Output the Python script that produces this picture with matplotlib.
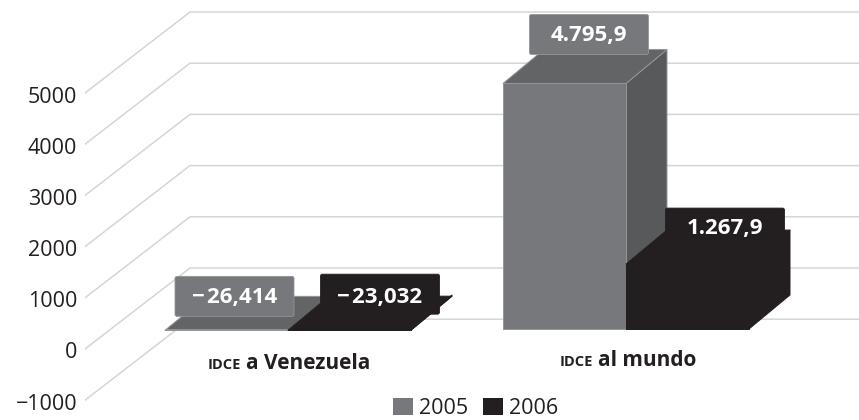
import matplotlib
matplotlib.use("Agg")
import matplotlib.pyplot as plt
from matplotlib.patches import FancyBboxPatch, Patch, Polygon
from matplotlib.transforms import ScaledTranslation

plt.rcParams["font.family"] = ["Open Sans", "DejaVu Sans"]

#---------------------------------data---------------------------------
categories = ["a Venezuela", "al mundo"]
prefix = "IDCE"
years = ["2005", "2006"]
values_2005 = [-26.414, 4795.9]
values_2006 = [-23.032, 1267.9]
labels_2005 = ["\u2212\u200a26,414", "4.795,9"]
labels_2006 = ["\u2212\u200a23,032", "1.267,9"]
y_ticks = [-1000, 0, 1000, 2000, 3000, 4000, 5000]
y_tick_labels = ["\u22121000", "0", "1000", "2000", "3000", "4000", "5000"]

#--------------------------------styles--------------------------------
W, H = 859, 420
PX_X = 338.0              # pixels per category
PX_Y = 0.0512             # pixels per value unit
BAR_W = 123 / PX_X
LIFT = 20 / PX_Y          # bars stand a little behind the front of the floor
DEPTH_X = 41 / PX_X
DEPTH_Y = 34 / PX_Y
WALL_X = 105 / PX_X
WALL_Y = 81 / PX_Y
GRID = "#d4d5d6"
GRAY = {"front": "#77787b", "top": "#636466", "side": "#58595b", "edge": "#939598"}
DARK = {"front": "#231f20", "top": "#231f20", "side": "#231f20", "edge": "#231f20"}

# label box centres as pixel offsets from the bar's front-top centre,
# third number moves the text down inside its box
OFFSET_2005 = [(8, 34, 1), (24.5, 49, 1)]
OFFSET_2006 = [(30.5, 36, 3.5), (37.5, 36, 0)]
BOX_W, BOX_H = 117, 38


#---------------------------draws one 3d looking bar----------------------
def draw_bar(ax, x, value, colors, z):
    bottom = LIFT
    top = value + LIFT
    right = x + BAR_W
    side = [(right, bottom), (right + DEPTH_X, bottom + DEPTH_Y),
            (right + DEPTH_X, top + DEPTH_Y), (right, top)]
    roof = [(x, top), (right, top), (right + DEPTH_X, top + DEPTH_Y), (x + DEPTH_X, top + DEPTH_Y)]
    front = [(x, bottom), (right, bottom), (right, top), (x, top)]
    for pts, key in [(side, "side"), (roof, "top"), (front, "front")]:
        ax.add_patch(Polygon(pts, closed=True, facecolor=colors[key], edgecolor=colors["edge"],
                             linewidth=0.7, joinstyle="round", zorder=z))


#-----------------------------draws a value label box----------------------
def draw_label(ax, x, value, text, offset, colors):
    cx = x + BAR_W / 2 + offset[0] / PX_X
    cy = value + LIFT + offset[1] / PX_Y
    w = BOX_W / PX_X
    h = BOX_H / PX_Y
    # box is drawn in pixel space so that the corners stay round
    left, low = ax.transData.transform((cx - w / 2, cy - h / 2))
    box = FancyBboxPatch((left, low), BOX_W, BOX_H, boxstyle="round,pad=1,rounding_size=2",
                         facecolor=colors["front"], edgecolor=colors["edge"], linewidth=0.6,
                         transform=None, zorder=6)
    ax.add_patch(box)
    ax.text(cx, cy - offset[2] / PX_Y, text, color="white", fontsize=16, fontweight="bold",
            ha="center", va="center", zorder=7)


#-------------------------------main function-----------------------------
def main():
    fig = plt.figure(figsize=(W / 100, H / 100), dpi=100)
    ax = fig.add_axes([85 / W, 0, 774 / W, 1])
    ax.set_xlim((85 - 288) / PX_X, (859 - 288) / PX_X)
    ax.set_ylim((349 - H) / PX_Y, 349 / PX_Y)
    for spine in ax.spines.values():
        spine.set_visible(False)
    ax.set_xticks([])
    ax.set_yticks(y_ticks)
    ax.set_yticklabels(y_tick_labels, fontsize=15.5, color="#231f20")
    ax.tick_params(axis="y", length=0, pad=5.5)
    nudge = ScaledTranslation(0, -1.5 / 100, fig.dpi_scale_trans)
    for label in ax.get_yticklabels():
        label.set_transform(label.get_transform() + nudge)

    # walls: diagonal on the side, flat along the back
    x0, x1 = ax.get_xlim()
    for tick in y_ticks:
        ax.plot([x0, x0 + WALL_X, x1], [tick, tick + WALL_Y, tick + WALL_Y],
                color=GRID, linewidth=1.1, zorder=1, solid_joinstyle="miter")

    for i in range(len(categories)):
        draw_bar(ax, i - BAR_W, values_2005[i], GRAY, 3 + i)
        draw_bar(ax, i, values_2006[i], DARK, 3 + i)

    for i in range(len(categories)):
        draw_label(ax, i - BAR_W, values_2005[i], labels_2005[i], OFFSET_2005[i], GRAY)
        draw_label(ax, i, values_2006[i], labels_2006[i], OFFSET_2006[i], DARK)

    # category names, the small caps prefix is a smaller separate text
    name_y = [(349 - 369) / PX_Y, (349 - 366) / PX_Y]
    name_x = [(241 - 288) / PX_X, (593 - 288) / PX_X]
    for i, name in enumerate(categories):
        ax.text(name_x[i], name_y[i], prefix, fontsize=10.5, fontweight="bold", color="#231f20",
                ha="right", va="baseline")
        ax.text(name_x[i] + 5 / PX_X, name_y[i], name, fontsize=15, fontweight="bold", color="#231f20",
                ha="left", va="baseline")

    handles = [Patch(facecolor=GRAY["front"]), Patch(facecolor=DARK["front"])]
    fig.legend(handles, years, loc="lower left", bbox_to_anchor=(393 / W, 1 / H), ncols=2, frameon=False,
               fontsize=15.5, handlelength=0.92, handleheight=0.8, handletextpad=0.28,
               columnspacing=0.72, borderpad=0, borderaxespad=0, labelcolor="#231f20")

    fig.savefig("out.png", dpi=100)


if __name__ == "__main__":
    main()
